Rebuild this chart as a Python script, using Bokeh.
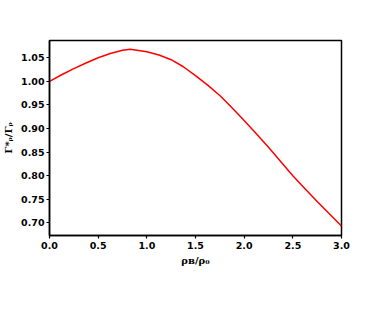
from bokeh.plotting import figure
from bokeh.models import Range1d, FixedTicker, NumeralTickFormatter
from bokeh.embed import file_html
from bokeh.resources import INLINE

# Data
rho_ratio = [0.0, 0.125, 0.25, 0.375, 0.5, 0.625, 0.75, 0.83, 1.0, 1.125, 1.25, 1.375,
             1.5, 1.625, 1.75, 1.875, 2.0, 2.125, 2.25, 2.375, 2.5, 2.625, 2.75, 2.875, 3.0]
gamma_ratio = [1.000, 1.014, 1.027, 1.039, 1.050, 1.059, 1.066, 1.068, 1.063, 1.056, 1.046, 1.031,
               1.012, 0.992, 0.970, 0.944, 0.917, 0.889, 0.860, 0.830, 0.800, 0.772, 0.745, 0.719, 0.693]
x_ticks = [0.0, 0.5, 1.0, 1.5, 2.0, 2.5, 3.0]
y_ticks = [0.70, 0.75, 0.80, 0.85, 0.90, 0.95, 1.00, 1.05]

p = figure(width=370, height=328, output_backend="svg", toolbar_location=None,
           x_range=Range1d(0, 3), y_range=Range1d(0.673, 1.0867),
           min_border_left=47, min_border_right=29, min_border_top=40, min_border_bottom=93)

p.line(rho_ratio, gamma_ratio, line_color="red", line_width=1.5, line_join="round")

p.grid.visible = False
p.outline_line_color = "black"
p.outline_line_width = 1.5
p.background_fill_color = "white"
p.border_fill_color = "white"

for ax in (p.xaxis[0], p.yaxis[0]):
    ax.axis_line_color = "black"
    ax.axis_line_width = 1.5
    ax.major_tick_line_color = "black"
    ax.major_tick_line_width = 1.2
    ax.major_tick_out = 3
    ax.major_tick_in = 0
    ax.minor_tick_line_color = None
    ax.major_label_text_font = "DejaVu Sans"
    ax.major_label_text_font_style = "bold"
    ax.major_label_text_font_size = "9.5px"
    ax.major_label_text_color = "black"
    ax.axis_label_text_font = "DejaVu Serif"
    ax.axis_label_text_font_style = "bold"
    ax.axis_label_text_font_size = "10px"
    ax.axis_label_text_color = "black"

p.xaxis.ticker = FixedTicker(ticks=x_ticks)
p.yaxis.ticker = FixedTicker(ticks=y_ticks)
p.xaxis.formatter = NumeralTickFormatter(format="0.0")
p.yaxis.formatter = NumeralTickFormatter(format="0.00")
p.xaxis.major_label_standoff = 3
p.yaxis.major_label_standoff = 2
p.xaxis.axis_label = "ρʙ/ρ₀"
p.yaxis.axis_label = "Γ*ᵨ/Γᵨ"
p.xaxis.axis_label_standoff = 3
p.yaxis.axis_label_standoff = 4

open("out.html", "w").write(file_html(p, INLINE))
